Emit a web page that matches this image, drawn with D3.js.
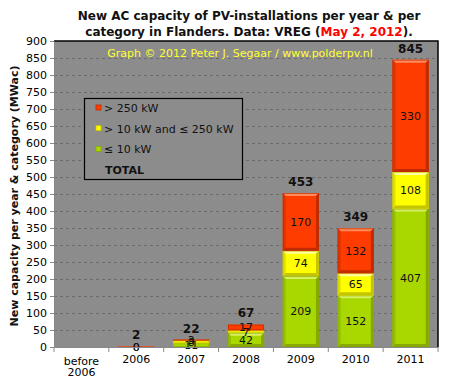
<!DOCTYPE html>
<html><head><meta charset="utf-8">
<script src="https://cdn.jsdelivr.net/npm/d3@7/dist/d3.min.js"></script>
<style>body{margin:0;background:#fff}svg{display:block}text{font-family:"DejaVu Sans",Verdana,sans-serif}</style>
</head><body><svg id="c" width="451" height="391"></svg>
<script>
const categories = ["before 2006","2006","2007","2008","2009","2010","2011"];
const small = [null, 0, 11, 42, 209, 152, 407];       // ≤ 10 kW
const medium = [null, 0, 8, 7, 74, 65, 108];          // > 10 kW and ≤ 250 kW
const large = [null, 2, 3, 17, 170, 132, 330];        // > 250 kW
const totals = [null, 2, 22, 67, 453, 349, 845];
const yTicks = d3.range(0, 901, 50);
const seriesNames = ["> 250 kW", "> 10 kW and \u2264 250 kW", "\u2264 10 kW", "TOTAL"];

const svg = d3.select("#c");
const m = {l:54, r:438, t:41, b:347};
const x = d3.scaleBand().domain(categories).range([m.l, m.r]).paddingInner(0.34).paddingOuter(0.17);
const y = d3.scaleLinear().domain([0, 900]).range([m.b, m.t]);

svg.append("rect").attr("x", m.l).attr("y", m.t).attr("width", m.r - m.l).attr("height", m.b - m.t).attr("fill", "#8c8c8c");
svg.append("g").selectAll("line").data(yTicks.filter(d => d > 0 && d < 900)).join("line")
  .attr("x1", m.l).attr("x2", m.r).attr("y1", d => y(d)).attr("y2", d => y(d))
  .attr("stroke", "#6c6c6c").attr("stroke-width", 1).attr("stroke-dasharray", "3,3").attr("shape-rendering", "crispEdges");

svg.append("text").attr("x", 240).attr("y", 57).attr("text-anchor", "middle").attr("font-size", 11)
  .attr("fill", "#ffff33").text("Graph \u00a9 2012 Peter J. Segaar / www.polderpv.nl");

const cols = [
  {vals: small, c: "#a8d800", light: "#d8f060", dark: "#86a800"},
  {vals: medium, c: "#ffff00", light: "#ffffa0", dark: "#c4c400"},
  {vals: large, c: "#ff3c00", light: "#ff8a5c", dark: "#c02c00"}
];
const gBars = svg.append("g");
const b = 3;
categories.forEach((cat, i) => {
  let base = 0;
  const x0 = x(cat), x1 = x0 + x.bandwidth();
  cols.forEach(s => {
    const v = s.vals[i];
    if (v == null) return;
    const y0 = y(base + v), y1 = y(base);
    base += v;
    if (v === 0) { return; }
    const h = y1 - y0;
    const g = gBars.append("g");
    g.append("rect").attr("x", x0).attr("y", y0).attr("width", x1 - x0).attr("height", h).attr("fill", s.c);
    if (h > 2 * b + 1) {
      const P = pts => pts.map(p => p.join(",")).join(" ");
      g.append("polygon").attr("points", P([[x0,y0],[x1,y0],[x1-b,y0+b],[x0+b,y0+b]])).attr("fill", s.light);
      g.append("polygon").attr("points", P([[x0,y0],[x0+b,y0+b],[x0+b,y1-b],[x0,y1]])).attr("fill", s.dark).attr("opacity", 0.5);
      g.append("polygon").attr("points", P([[x1,y0],[x1,y1],[x1-b,y1-b],[x1-b,y0+b]])).attr("fill", s.dark);
      g.append("polygon").attr("points", P([[x0,y1],[x0+b,y1-b],[x1-b,y1-b],[x1,y1]])).attr("fill", s.dark);
    }
    g.append("rect").attr("x", x0 + 0.5).attr("y", y0 + 0.5).attr("width", x1 - x0 - 1).attr("height", Math.max(0, h - 1))
      .attr("fill", "none").attr("stroke", s.dark).attr("stroke-width", 0.8).attr("opacity", 0.8);
  });
});

const gLab = svg.append("g");
categories.forEach((cat, i) => {
  let base = 0;
  const cx = x(cat) + x.bandwidth() / 2;
  cols.forEach(s => {
    const v = s.vals[i];
    if (v == null) return;
    const ym = y(base + v / 2);
    base += v;
    if (i === 1 && s === cols[2]) return;
    gLab.append("text").attr("x", cx).attr("y", ym + 4).attr("text-anchor", "middle").attr("font-size", 11)
      .attr("fill", "#111").text(v);
  });
  if (totals[i] != null) {
    gLab.append("text").attr("x", cx).attr("y", y(totals[i]) - 7).attr("text-anchor", "middle")
      .attr("font-size", 12).attr("font-weight", "bold").attr("fill", "#111").text(totals[i]);
  }
});

svg.append("path").attr("d", `M${m.l},${m.t}H${m.r}V${m.b}`).attr("fill", "none").attr("stroke", "#000").attr("stroke-width", 1.5);

const yAxis = svg.append("g").attr("transform", `translate(${m.l},0)`)
  .call(d3.axisLeft(y).tickValues(yTicks).tickSize(4).tickPadding(3).tickSizeOuter(0));
yAxis.selectAll("text").attr("font-size", 11).attr("fill", "#000").attr("font-family", "DejaVu Sans, Verdana, sans-serif");
yAxis.selectAll("line,path").attr("stroke", "#888");

const xAxis = svg.append("g").attr("transform", `translate(0,${m.b})`)
  .call(d3.axisBottom(x).tickSize(0).tickPadding(8).tickSizeOuter(0));
xAxis.select("path").attr("stroke", "#888");
xAxis.selectAll("text").attr("font-size", 11).attr("fill", "#000").attr("font-family", "DejaVu Sans, Verdana, sans-serif")
  .each(function(d) {
    const t = d3.select(this);
    const parts = d.split(" ");
    if (parts.length > 1) {
      t.text(null);
      parts.forEach((p, k) => t.append("tspan").attr("x", 0).attr("dy", k === 0 ? "0.71em" : "1.05em").text(p));
      t.attr("dy", null).attr("y", 10);
    }
  });
const step = x.step();
svg.append("g").selectAll("line").data(d3.range(categories.length + 1)).join("line")
  .attr("x1", k => m.l + k * step).attr("x2", k => m.l + k * step).attr("y1", m.b).attr("y2", m.b + 5)
  .attr("stroke", "#888");

svg.append("text").attr("transform", `translate(18,${(m.t + m.b) / 2 + 2}) rotate(-90)`).attr("text-anchor", "middle")
  .attr("font-size", 11).attr("font-weight", "bold").attr("fill", "#111").text("New capacity per year & category (MWac)");

const title = svg.append("text").attr("text-anchor", "middle").attr("font-size", 12).attr("font-weight", "bold").attr("fill", "#111");
title.append("tspan").attr("x", 249).attr("y", 20).text("New AC capacity of PV-installations per year & per");
const l2 = title.append("tspan").attr("x", 249).attr("y", 36);
l2.append("tspan").text("category in Flanders. Data: VREG (");
l2.append("tspan").attr("fill", "#ff0000").text("May 2, 2012");
l2.append("tspan").text(").");

const lg = svg.append("g");
lg.append("rect").attr("x", 84.5).attr("y", 98.5).attr("width", 158).attr("height", 81).attr("fill", "#8c8c8c").attr("stroke", "#000").attr("stroke-width", 1.2);
const legCols = [cols[2], cols[1], cols[0], null];
seriesNames.forEach((n, k) => {
  const yy = 108 + k * 20.7;
  if (legCols[k]) {
    lg.append("rect").attr("x", 96).attr("y", yy - 3).attr("width", 5).attr("height", 5).attr("fill", legCols[k].c).attr("stroke", legCols[k].dark).attr("stroke-width", 0.8);
  }
  lg.append("text").attr("x", k === 3 ? 105 : 104).attr("y", yy + 4).attr("font-size", 11)
    .attr("font-weight", k === 3 ? "bold" : "normal").attr("fill", "#111").text(n);
});
</script></body></html>
